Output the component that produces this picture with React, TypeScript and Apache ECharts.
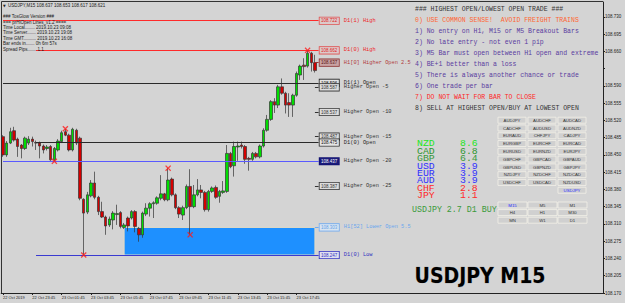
import React, { useEffect, useRef } from 'react';
import * as echarts from 'echarts';

// ---------- data ----------
const symbolName = 'USDJPY';
const timeframe = 'M15';
const headerQuote = ['108.637', '108.653', '108.617', '108.621'];
const infoLines = [
  '### TosGlow Version ###',
  '=== prHiOpen Lines_v1.2 ====',
  'Time Local........ 2019.10.23 09:08',
  'Time Server....... 2019.10.23 19:08',
  'Time GMT.......... 2019.10.23 16:08',
  'Bar ends in....... 0h 6m 57s',
  'Spread Pips....... 1.1',
];

const opens = [
  108.487, 108.450, 108.474, 108.499, 108.482, 108.470, 108.463, 108.474, 108.482, 108.475,
  108.474, 108.468, 108.463, 108.467, 108.440, 108.460, 108.477, 108.497, 108.490, 108.460,
  108.500, 108.484, 108.360, 108.334, 108.367, 108.393, 108.364, 108.335, 108.324, 108.308,
  108.318, 108.329, 108.333, 108.303, 108.322, 108.322, 108.335, 108.301, 108.288, 108.330,
  108.342, 108.351, 108.352, 108.362, 108.371, 108.359, 108.401, 108.369, 108.343, 108.328,
  108.343, 108.386, 108.345, 108.369, 108.379, 108.374, 108.339, 108.376, 108.384, 108.366,
  108.374, 108.376, 108.453, 108.428, 108.466, 108.470, 108.467, 108.443, 108.441, 108.453,
  108.446, 108.468, 108.500, 108.522, 108.558, 108.551, 108.588, 108.575, 108.556, 108.551,
  108.571, 108.612, 108.632, 108.630, 108.656, 108.637,
];
const closes = [
  108.450, 108.474, 108.497, 108.480, 108.467, 108.463, 108.484, 108.482, 108.477, 108.474,
  108.468, 108.460, 108.466, 108.440, 108.463, 108.478, 108.495, 108.490, 108.460, 108.502,
  108.474, 108.362, 108.332, 108.369, 108.393, 108.364, 108.335, 108.324, 108.306, 108.320,
  108.332, 108.331, 108.305, 108.308, 108.306, 108.335, 108.305, 108.288, 108.332, 108.342,
  108.351, 108.353, 108.363, 108.371, 108.359, 108.399, 108.369, 108.343, 108.330, 108.343,
  108.386, 108.345, 108.369, 108.379, 108.374, 108.339, 108.376, 108.383, 108.364, 108.376,
  108.377, 108.453, 108.426, 108.467, 108.468, 108.467, 108.441, 108.441, 108.453, 108.446,
  108.468, 108.500, 108.522, 108.558, 108.551, 108.588, 108.575, 108.551, 108.551, 108.571,
  108.615, 108.630, 108.629, 108.656, 108.637, 108.621,
];
const lows = [
  108.446, 108.446, 108.472, 108.477, 108.446, 108.443, 108.460, 108.470, 108.467, 108.460,
  108.443, 108.453, 108.459, 108.438, 108.437, 108.457, 108.474, 108.488, 108.457, 108.457,
  108.470, 108.358, 108.247, 108.330, 108.364, 108.360, 108.328, 108.322, 108.288, 108.304,
  108.299, 108.308, 108.301, 108.300, 108.295, 108.319, 108.293, 108.274, 108.282, 108.326,
  108.325, 108.322, 108.349, 108.358, 108.356, 108.356, 108.366, 108.340, 108.322, 108.318,
  108.340, 108.288, 108.342, 108.366, 108.362, 108.335, 108.335, 108.373, 108.361, 108.353,
  108.371, 108.373, 108.423, 108.406, 108.438, 108.463, 108.432, 108.418, 108.438, 108.443,
  108.443, 108.465, 108.497, 108.519, 108.535, 108.545, 108.572, 108.534, 108.527, 108.527,
  108.568, 108.602, 108.602, 108.627, 108.619, 108.617,
];
const highs = [
  108.490, 108.478, 108.505, 108.507, 108.485, 108.472, 108.487, 108.488, 108.487, 108.479,
  108.477, 108.471, 108.470, 108.470, 108.466, 108.482, 108.499, 108.503, 108.493, 108.505,
  108.503, 108.487, 108.362, 108.375, 108.399, 108.416, 108.367, 108.355, 108.327, 108.325,
  108.336, 108.349, 108.336, 108.312, 108.325, 108.338, 108.338, 108.304, 108.335, 108.352,
  108.354, 108.356, 108.366, 108.409, 108.373, 108.423, 108.404, 108.372, 108.346, 108.347,
  108.390, 108.421, 108.389, 108.401, 108.389, 108.377, 108.379, 108.386, 108.388, 108.379,
  108.397, 108.470, 108.456, 108.477, 108.477, 108.477, 108.470, 108.446, 108.456, 108.456,
  108.471, 108.504, 108.531, 108.561, 108.565, 108.592, 108.605, 108.578, 108.575, 108.574,
  108.619, 108.633, 108.646, 108.662, 108.659, 108.653,
];

// swing markers (bar index, which extreme)
const markerBars = [14, 17, 22, 45, 51, 83];
const markerSides = ['low', 'high', 'low', 'high', 'low', 'high'];

// horizontal levels
const levelNames = [
  'D1(1) High', 'D1(0) High', 'H1[0] Higher Open 2.5', 'D1(1) Open', 'Higher Open -5',
  'Higher Open -10', 'Higher Open -15', 'D1(0) Open', 'Higher Open -20', 'Higher Open -25',
  'H1[52] Lower Open 5.5', 'D1(0) Low',
];
const levelValues = [
  108.722, 108.662, 108.637, 108.596, 108.587, 108.537, 108.487, 108.475, 108.437, 108.387,
  108.303, 108.247,
];
const levelFromBar = [0, 9, 85, 0, 85, 85, 85, 9, 0, 85, 85, 9];
const levelKinds = ['red', 'red', 'maroon', 'black', 'gray', 'gray', 'gray', 'black', 'navy', 'gray', 'sky', 'blue'];

const zoneFromBar = 33;
const zoneToBar = 85;
const currentPrice = 108.621;

const rules = [
  '### HIGHEST OPEN/LOWEST OPEN TRADE ###',
  '0) USE COMMON SENSE!  AVOID FREIGHT TRAINS',
  '1) No entry on H1, M15 or M5 Breakout Bars',
  '2) No late entry - not even 1 pip',
  '3) M5 Bar must open between H1 open and extreme',
  '4) BE+1 better than a loss',
  '5) There is always another chance or trade',
  '6) One trade per bar',
  '7) DO NOT WAIT FOR BAR TO CLOSE',
  '8) SELL AT HIGHEST OPEN/BUY AT LOWEST OPEN',
];
const ruleColors = ['#333333', '#ff6633', '#5a3ca0', '#5a3ca0', '#5a3ca0', '#5a3ca0', '#5a3ca0', '#5a3ca0', '#ff1f1f', '#333333'];

const currencies = ['NZD', 'CAD', 'GBP', 'USD', 'EUR', 'AUD', 'CHF', 'JPY'];
const strengths = [8.6, 6.8, 6.4, 3.9, 3.9, 3.9, 2.8, 1.1];
const currencyColors = ['#22e622', '#2f962f', '#3a9a3a', '#3030ff', '#3030ff', '#3030ff', '#ff2a2a', '#ff2a2a'];
const signalText = 'USDJPY 2.7 D1 BUY';

const symbolRows = [
  ['AUDJPY', 'AUDCHF', 'AUDCAD'],
  ['CADCHF', 'AUDUSD', 'AUDNZD'],
  ['EURAUD', 'CHFJPY', 'CADJPY'],
  ['EURGBP', 'EURCHF', 'EURCAD'],
  ['EURUSD', 'EURNZD', 'EURJPY'],
  ['GBPCHF', 'GBPCAD', 'GBPAUD'],
  ['GBPUSD', 'GBPNZD', 'GBPJPY'],
  ['NZDJPY', 'NZDCHF', 'NZDCAD'],
  ['USDCHF', 'USDCAD', 'NZDUSD'],
  ['', '', 'USDJPY'],
];
const timeframeRows = [
  ['M15', 'M5', 'M1'],
  ['H4', 'H1', 'M30'],
  ['MN', 'W1', 'D1'],
];

const TOTAL_SLOTS = 164;
const FIRST_BAR_MIN = 21 * 60 + 45; // 22 Oct 21:45

// ---------- styles ----------
const BG = '#d4d4d4';
const styleMap: Record<string, any> = {
  red: { line: '#ff2a2a', bb: '#e05050', bg: '#dccaca', bt: '#e02020', tx: '#ee2222' },
  maroon: { line: '#a03030', bb: '#8c3030', bg: '#c9a3a3', bt: '#5a1010', tx: '#b03a3a' },
  black: { line: '#2a2a2a', bb: '#222222', bg: '#e4e4e4', bt: '#111111', tx: '#222222' },
  gray: { line: '#333333', bb: '#333333', bg: '#dcdcdc', bt: '#333333', tx: '#333333' },
  navy: { line: '#5a5aff', bb: '#101070', bg: '#1a1a7a', bt: '#ffffff', tx: '#333333' },
  sky: { line: '#70aaf0', bb: '#70aaf0', bg: '#d8e4f0', bt: '#5f9fe8', tx: '#6aa6ee' },
  blue: { line: '#3a3ad0', bb: '#3030c0', bg: '#e0e0f0', bt: '#3030c0', tx: '#3030c0' },
};

export default function App() {
  const ref = useRef<HTMLDivElement>(null);

  useEffect(() => {
    const el = ref.current!;
    const chart = echarts.init(el, null, { renderer: 'svg' });

    const cats: string[] = [];
    for (let i = 0; i < TOTAL_SLOTS; i++) {
      const t = FIRST_BAR_MIN + 15 * i;
      const day = 22 + Math.floor(t / 1440);
      const mm = t % 1440;
      const hh = String(Math.floor(mm / 60)).padStart(2, '0');
      const mi = String(mm % 60).padStart(2, '0');
      cats.push(`${day} Oct ${hh}:${mi}`);
    }
    const lastBar = opens.length - 1;
    const showIdx = (idx: number) => idx % 8 === 0 && idx <= lastBar;

    const candles = opens.map((o, i) => [o, closes[i], lows[i], highs[i]]);
    const markers = markerBars.map((b, k) => [b, markerSides[k] === 'high' ? highs[b] : lows[b]]);

    const markLineData: any[] = levelNames.map((name, i) => {
      const s = styleMap[levelKinds[i]];
      const v = levelValues[i];
      return [
        {
          coord: [levelFromBar[i], v],
          lineStyle: { color: s.line, width: 1, type: 'solid', opacity: 1 },
          label: {
            show: true,
            position: 'end',
            distance: 1,
            formatter: `{b|${v.toFixed(3)}}{t|${name}}`,
            rich: {
              b: {
                fontFamily: 'Liberation Sans',
                fontSize: 4.5,
                color: s.bt,
                backgroundColor: s.bg,
                borderColor: s.bb,
                borderWidth: 0.8,
                padding: [1, 1.5, 0.5, 1.5],
                lineHeight: 6,
              },
              t: {
                fontFamily: 'Liberation Mono',
                fontSize: 5.3,
                color: s.tx,
                padding: [0, 0, 0, 5],
              },
            },
          },
        },
        { coord: [lastBar + 1, v] },
      ];
    });
    markLineData.push({
      yAxis: currentPrice,
      lineStyle: { opacity: 0 },
      label: {
        show: true,
        position: 'end',
        distance: 2,
        formatter: currentPrice.toFixed(3),
        color: '#ffffff',
        backgroundColor: '#000000',
        fontFamily: 'Liberation Sans',
        fontSize: 4.5,
        padding: [1, 2, 1, 2],
      },
    });

    const zoneTop = levelValues[levelNames.indexOf('H1[52] Lower Open 5.5')];
    const zoneBottom = levelValues[levelNames.indexOf('D1(0) Low')];

    const graphics: any[] = [];
    // frame
    graphics.push({ type: 'line', shape: { x1: 1.5, y1: 1.5, x2: 1.5, y2: 293 }, style: { stroke: '#333', lineWidth: 1 }, z: 100 });
    graphics.push({ type: 'line', shape: { x1: 1.5, y1: 1.5, x2: 603, y2: 1.5 }, style: { stroke: '#333', lineWidth: 1 }, z: 100 });
    // header
    graphics.push({
      type: 'text', x: 3, y: 5.5, z: 100,
      style: { text: '\u25BC', fontSize: 3.5, fontFamily: 'DejaVu Sans', fill: '#222', textVerticalAlign: 'middle' },
    });
    graphics.push({
      type: 'text', x: 8, y: 5.5, z: 100,
      style: { text: `${symbolName},${timeframe} ${headerQuote.join(' ')}`, fontSize: 4.5, fontFamily: 'Liberation Sans', fill: '#1a1a1a', textVerticalAlign: 'middle' },
    });
    const infoY = [16, 22.5, 27.5, 32.5, 38, 43.5, 49];
    infoLines.forEach((t, i) => {
      graphics.push({
        type: 'text', x: 3, y: infoY[i], z: 100,
        style: { text: t, fontSize: 4.5, fontFamily: 'Liberation Sans', fill: '#1a1a1a', textVerticalAlign: 'middle' },
      });
    });
    // rules panel
    rules.forEach((t, i) => {
      graphics.push({
        type: 'text', x: 415, y: 9.5 + 11 * i, z: 100,
        style: { text: t, fontSize: 6.5, fontFamily: 'Liberation Mono', fill: ruleColors[i], textVerticalAlign: 'middle' },
      });
    });
    // currency strength
    currencies.forEach((c, i) => {
      const y = 144 + 7.4 * i;
      graphics.push({
        type: 'text', x: 417, y, z: 100, scaleX: 1.12,
        style: { text: c, fontSize: 8.8, fontFamily: 'Liberation Mono', fill: currencyColors[i], textVerticalAlign: 'middle' },
      });
      graphics.push({
        type: 'text', x: 460, y, z: 100, scaleX: 1.12,
        style: { text: strengths[i].toFixed(1), fontSize: 8.8, fontFamily: 'Liberation Mono', fill: currencyColors[i], textVerticalAlign: 'middle' },
      });
    });
    graphics.push({
      type: 'text', x: 412, y: 209.5, z: 100,
      style: { text: signalText, fontSize: 8.3, fontFamily: 'Liberation Mono', fill: '#3a9a3a', textVerticalAlign: 'middle' },
    });
    // buttons
    const button = (label: string, x: number, y: number, w: number, h: number, blue: boolean) => {
      graphics.push({
        type: 'rect', z: 100, shape: { x, y, width: w, height: h },
        style: { fill: '#d0d0d0', stroke: '#f4f1e8', lineWidth: 0.8 },
      });
      if (label) {
        graphics.push({
          type: 'text', z: 101, x: x + w / 2, y: y + h / 2 + 0.2,
          style: { text: label, fontSize: 4.3, fontFamily: 'Liberation Sans', fill: blue ? '#2a2aff' : '#333', textAlign: 'center', textVerticalAlign: 'middle' },
        });
      }
    };
    symbolRows.forEach((row, r) => {
      row.forEach((s, c) => {
        if (!s) return;
        button(s, 498 + 30 * c, 117.2 + 7.78 * r, 28, 6, s === symbolName);
      });
    });
    timeframeRows.forEach((row, r) => {
      row.forEach((s, c) => {
        button(s, 498 + 30 * c, 202 + 7.6 * r, 29, 6, s === timeframe);
      });
    });
    // big watermark
    graphics.push({
      type: 'text', x: 480, y: 275.5, z: 100,
      style: {
        text: `${symbolName} ${timeframe}`, fontSize: 21, fontWeight: 'bold',
        fontFamily: '"Liberation Sans Narrow", "DejaVu Sans Condensed", sans-serif',
        fill: '#000', stroke: '#9a9a9a', lineWidth: 0.4,
        textAlign: 'center', textVerticalAlign: 'middle',
      },
    });

    const option: any = {
      animation: false,
      backgroundColor: BG,
      grid: { left: 0, right: 22, top: 2, bottom: 10, containLabel: false },
      xAxis: {
        type: 'category',
        data: cats,
        boundaryGap: true,
        axisLine: { show: true, lineStyle: { color: '#222', width: 1 } },
        axisTick: { show: true, alignWithLabel: true, interval: (i: number) => showIdx(i), length: 2, lineStyle: { color: '#222' } },
        axisLabel: {
          interval: (i: number) => showIdx(i),
          formatter: (v: string, i: number) => (i === 0 ? '22 Oct 2019' : v),
          align: 'left',
          fontSize: 4,
          fontFamily: 'Liberation Sans',
          color: '#222',
          margin: 2,
        },
        splitLine: { show: false },
      },
      yAxis: {
        type: 'value',
        position: 'right',
        min: 108.17,
        max: 108.76,
        interval: 0.035,
        scale: true,
        axisLine: { show: true, lineStyle: { color: '#222', width: 1 } },
        axisTick: { show: true, length: 2, lineStyle: { color: '#222' } },
        axisLabel: {
          fontSize: 4.5,
          fontFamily: 'Liberation Sans',
          color: '#222',
          margin: 2,
          showMaxLabel: false,
          formatter: (v: number) =>
            Math.abs(v - 108.76) < 1e-6 || Math.abs(v - 108.625) < 1e-4 ? '' : v.toFixed(3),
        },
        splitLine: { show: false },
      },
      graphic: graphics,
      series: [
        {
          type: 'candlestick',
          data: candles,
          barWidth: 3,
          silent: true,
          itemStyle: {
            color: '#00dd00',
            color0: '#d40000',
            borderColor: '#333333',
            borderColor0: '#333333',
            borderWidth: 0.7,
          },
          markLine: {
            silent: true,
            symbol: ['none', 'none'],
            precision: 3,
            data: markLineData,
            z: 3,
          },
          markArea: {
            silent: true,
            itemStyle: { color: '#1e90ff', borderColor: '#e6dcc4', borderWidth: 1 },
            data: [[{ coord: [zoneFromBar, zoneTop] }, { coord: [zoneToBar, zoneBottom] }]],
          },
        },
        {
          type: 'scatter',
          data: markers,
          silent: true,
          symbol: 'path://M0,1.5L1.5,0L5,3.5L8.5,0L10,1.5L6.5,5L10,8.5L8.5,10L5,6.5L1.5,10L0,8.5L3.5,5Z',
          symbolSize: 6,
          itemStyle: { color: '#ff1a1a' },
          z: 5,
        },
      ],
    };
    chart.setOption(option);
    return () => chart.dispose();
  }, []);

  return <div ref={ref} style={{ position: 'fixed', left: 0, top: 0, width: 625, height: 303 }} />;
}
